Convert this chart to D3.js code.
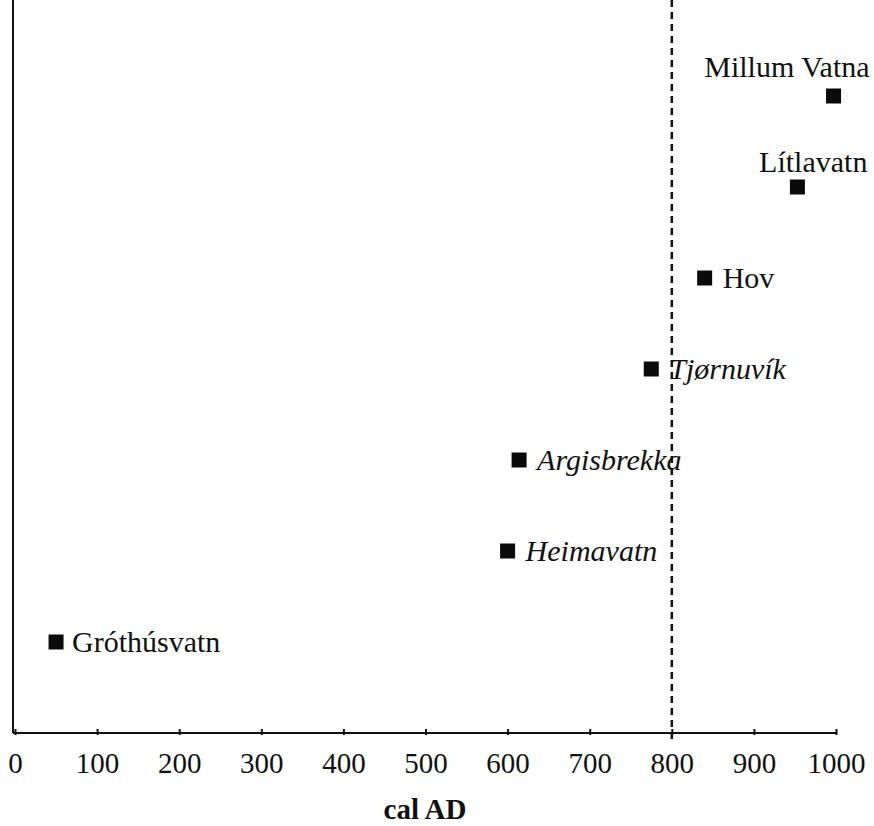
<!DOCTYPE html>
<html>
<head>
<meta charset="utf-8">
<script src="https://cdn.jsdelivr.net/npm/d3@7"></script>
<style>
  body { margin: 0; background: #fff; }
  svg text { font-family: "Liberation Serif", "Times New Roman", serif; fill: #111; }
</style>
</head>
<body>
<div id="chart"></div>
<script>
// sites, bottom to top, with their date (cal AD)
const sites = ["Gróthúsvatn", "Heimavatn", "Argisbrekka", "Tjørnuvík", "Hov", "Lítlavatn", "Millum Vatna"];
const dates = [50, 600, 614, 775, 840, 953, 997];
const italicSites = ["Heimavatn", "Argisbrekka", "Tjørnuvík"];
const xTicks = [0, 100, 200, 300, 400, 500, 600, 700, 800, 900, 1000];
const markerDate = 800;

const width = 874, height = 826;
const plotLeft = 15, plotRight = 836, plotTop = 5, plotBottom = 733;

const svg = d3.select("#chart").append("svg")
  .attr("width", width)
  .attr("height", height);

const x = d3.scaleLinear().domain([0, 1000]).range([plotLeft, plotRight]);
const y = d3.scaleLinear().domain([0, sites.length + 1]).range([plotBottom, plotTop]);

// left axis line (no ticks)
svg.append("line")
  .attr("x1", 13).attr("x2", 13)
  .attr("y1", 0).attr("y2", plotBottom)
  .attr("stroke", "#111").attr("stroke-width", 2);

// bottom axis
const xAxis = svg.append("g")
  .attr("transform", "translate(0," + plotBottom + ")")
  .call(d3.axisBottom(x).tickValues(xTicks).tickSizeInner(-4).tickSizeOuter(0).tickFormat(d3.format("d")));
xAxis.select(".domain").attr("stroke", "#111").attr("stroke-width", 2).attr("d", "M13,0H" + plotRight);
xAxis.selectAll(".tick line").attr("stroke", "#111").attr("stroke-width", 2).attr("y1", 2);
xAxis.selectAll(".tick text")
  .attr("y", 40).attr("dy", 0)
  .attr("font-size", 29)
  .attr("fill", "#111");

svg.append("text")
  .attr("x", 425).attr("y", 819)
  .attr("text-anchor", "middle")
  .attr("font-size", 29)
  .attr("font-weight", "bold")
  .text("cal AD");

// dashed line at 800
svg.append("line")
  .attr("x1", x(markerDate)).attr("x2", x(markerDate))
  .attr("y1", 0).attr("y2", plotBottom + 6)
  .attr("stroke", "#111").attr("stroke-width", 2.5)
  .attr("stroke-dasharray", "7,5");

const rows = sites.map((s, i) => ({ name: s, date: dates[i], idx: i + 1 }));

const sq = 15;
svg.append("g").selectAll("rect")
  .data(rows)
  .enter()
  .append("rect")
  .attr("x", d => x(d.date) - sq / 2)
  .attr("y", d => y(d.idx) - sq / 2)
  .attr("width", sq).attr("height", sq)
  .attr("fill", "#0a0a0a");

// label placement: beside the marker, or above it for the top two
function labelX(d) {
  if (d.name === "Millum Vatna") return x(d.date) + 36;
  if (d.name === "Lítlavatn") return x(d.date) + 70;
  if (d.name === "Gróthúsvatn") return x(d.date) + 16;
  return x(d.date) + 18;
}
function labelY(d) {
  if (d.name === "Millum Vatna") return y(d.idx) - 19;
  if (d.name === "Lítlavatn") return y(d.idx) - 15;
  return y(d.idx) + 10;
}

svg.append("g").selectAll("text")
  .data(rows)
  .enter()
  .append("text")
  .attr("x", labelX)
  .attr("y", labelY)
  .attr("text-anchor", d => (d.name === "Millum Vatna" || d.name === "Lítlavatn") ? "end" : "start")
  .attr("font-size", 30)
  .attr("font-style", d => italicSites.includes(d.name) ? "italic" : "normal")
  .text(d => d.name);
</script>
</body>
</html>
